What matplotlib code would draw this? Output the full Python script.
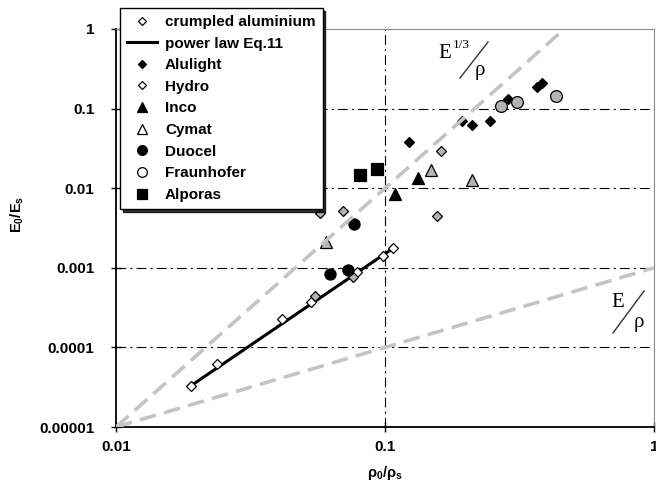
import matplotlib
matplotlib.use("Agg")
import matplotlib.pyplot as plt
from matplotlib.lines import Line2D

plt.rcParams["font.family"] = ["Liberation Sans", "DejaVu Sans"]
plt.rcParams["font.weight"] = "bold"
plt.rcParams["mathtext.fontset"] = "custom"
plt.rcParams["mathtext.rm"] = "Liberation Sans:bold"
plt.rcParams["mathtext.it"] = "Liberation Sans:bold"
plt.rcParams["mathtext.default"] = "rm"
plt.rcParams["lines.scale_dashes"] = False

# ---- data ----
crumpled_x = [0.0190, 0.0237, 0.0415, 0.0532, 0.0785, 0.098, 0.1074]
crumpled_y = [3.3e-5, 6.25e-5, 2.30e-4, 3.74e-4, 8.73e-4, 1.39e-3, 1.77e-3]

powerlaw_x = [0.019, 0.1074]
powerlaw_y = [3.3e-5, 1.77e-3]

alulight_x = [0.1231, 0.1928, 0.210, 0.2456, 0.287, 0.366, 0.385]
alulight_y = [0.0381, 0.0692, 0.0629, 0.0692, 0.1336, 0.1874, 0.2104]

hydro_x = [0.0549, 0.0762, 0.0573, 0.070, 0.1557, 0.1619]
hydro_y = [4.44e-4, 7.64e-4, 4.88e-3, 5.1e-3, 4.51e-3, 0.029]

inco_x = [0.109, 0.133]
inco_y = [8.4e-3, 0.0134]

cymat_x = [0.0603, 0.1486, 0.2106]
cymat_y = [2.08e-3, 0.0171, 0.0128]

duocel_x = [0.0625, 0.0730, 0.0767]
duocel_y = [8.33e-4, 9.25e-4, 3.54e-3]

fraunhofer_x = [0.270, 0.310, 0.431]
fraunhofer_y = [0.107, 0.121, 0.146]

alporas_x = [0.0807, 0.0936]
alporas_y = [0.0148, 0.0176]

# guide lines E^(1/3)/rho and E/rho
guide3_x = [0.01, 0.464]
guide3_y = [1e-5, 1.0]
guide1_x = [0.01, 1.0]
guide1_y = [1e-5, 1e-3]

xticks = [0.01, 0.1, 1]
xtick_labels = ["0.01", "0.1", "1"]
yticks = [1e-5, 1e-4, 1e-3, 1e-2, 1e-1, 1]
ytick_labels = ["0.00001", "0.0001", "0.001", "0.01", "0.1", "1"]
grid_x = [0.1]
grid_y = [1e-4, 1e-3, 1e-2, 1e-1]

W, H = 656, 484
fig = plt.figure(figsize=(W / 100, H / 100), dpi=100)
fig.patch.set_facecolor("white")
ax = fig.add_axes([116 / W, 57 / H, 538 / W, 398 / H])
ax.set_xscale("log")
ax.set_yscale("log")
ax.set_xlim(0.01, 1)
ax.set_ylim(1e-5, 1)

GRAY = "#b4b4b4"
DASH = "#c4c4c4"
dd = (0, (7, 3, 1.5, 3))

for gx in grid_x:
    ax.axvline(gx, color="black", lw=0.8, ls=dd, zorder=1)
for gy in grid_y:
    ax.axhline(gy, color="black", lw=0.8, ls=dd, zorder=1)

ax.plot(powerlaw_x, powerlaw_y, color="black", lw=2.2, zorder=3)

mk = dict(ls="none", markeredgecolor="black", markeredgewidth=0.9, zorder=4)
ax.plot(crumpled_x, crumpled_y, marker="D", ms=5, markerfacecolor="white", **mk)
ax.plot(hydro_x, hydro_y, marker="D", ms=4.8, markerfacecolor=GRAY, **mk)
ax.plot(alulight_x, alulight_y, marker="D", ms=5.5, markerfacecolor="black", **mk)
ax.plot(inco_x, inco_y, marker="^", ms=8, markerfacecolor="black", **mk)
ax.plot(cymat_x, cymat_y, marker="^", ms=8, markerfacecolor=GRAY, **mk)
ax.plot(duocel_x, duocel_y, marker="o", ms=8, markerfacecolor="black", **mk)
ax.plot(fraunhofer_x, fraunhofer_y, marker="o", ms=8.5, markerfacecolor=GRAY, **mk)
ax.plot(alporas_x, alporas_y, marker="s", ms=8.5, markerfacecolor="black", **mk)

ax.plot(guide3_x, guide3_y, color=DASH, lw=2.6, dashes=(12, 6), zorder=5)
ax.plot(guide1_x, guide1_y, color=DASH, lw=2.6, dashes=(12, 6), zorder=5)

# axes frame
for s in ["left", "bottom"]:
    ax.spines[s].set_color("black")
    ax.spines[s].set_linewidth(1.3)
for s in ["top", "right"]:
    ax.spines[s].set_color("#8a8a8a")
    ax.spines[s].set_linewidth(0.8)

ax.set_xticks(xticks)
ax.set_xticklabels(xtick_labels)
ax.set_yticks(yticks)
ax.set_yticklabels(ytick_labels)
ax.minorticks_off()
ax.tick_params(direction="inout", length=7, width=1, labelsize=11)
ax.tick_params(axis="y", pad=12)
ax.tick_params(axis="x", pad=6)

ax.set_xlabel(r"$ρ_0/ρ_s$", fontsize=10.5, labelpad=7)
ax.set_ylabel(r"$E_0/E_s$", fontsize=10.5)
ax.yaxis.set_label_coords(-0.168, 0.535)

# annotations in figure pixels (top-left origin)
def fx(px):
    return px / W

def fy(py):
    return 1 - py / H

serif = ["Liberation Serif", "DejaVu Serif"]
fig.text(fx(445), fy(53.5), "E", family=serif, weight="normal", fontsize=15,
         ha="center", va="center")
fig.text(fx(461), fy(45), "1/3", family=serif, weight="normal", fontsize=9.5,
         ha="center", va="center")
fig.add_artist(Line2D([fx(460), fx(488)], [fy(78), fy(42)], color="#333333", lw=1))
fig.text(fx(480), fy(71), "ρ", family=serif, weight="normal", fontsize=15,
         ha="center", va="center")

fig.text(fx(618), fy(302.5), "E", family=serif, weight="normal", fontsize=15,
         ha="center", va="center")
fig.add_artist(Line2D([fx(613), fx(644)], [fy(333), fy(291)], color="#333333", lw=1))
fig.text(fx(639), fy(322), "ρ", family=serif, weight="normal", fontsize=15,
         ha="center", va="center")

# legend
mkl = dict(ls="none", markeredgecolor="black", markeredgewidth=0.9)
handles = [
    Line2D([], [], marker="D", ms=4.5, markerfacecolor="white", **mkl),
    Line2D([], [], color="black", lw=2.2),
    Line2D([], [], marker="D", ms=4.5, markerfacecolor="black", **mkl),
    Line2D([], [], marker="D", ms=4.5, markerfacecolor="white", **mkl),
    Line2D([], [], marker="^", ms=7, markerfacecolor="black", **mkl),
    Line2D([], [], marker="^", ms=7, markerfacecolor="white", **mkl),
    Line2D([], [], marker="o", ms=7, markerfacecolor="black", **mkl),
    Line2D([], [], marker="o", ms=7, markerfacecolor="white", **mkl),
    Line2D([], [], marker="s", ms=6.5, markerfacecolor="black", **mkl),
]
labels = ["crumpled aluminium", "power law Eq.11", "Alulight", "Hydro", "Inco",
          "Cymat", "Duocel", "Fraunhofer", "Alporas"]
leg = fig.legend(handles, labels, loc="upper left",
                 bbox_to_anchor=(fx(120), fy(8)), fontsize=11,
                 frameon=True, fancybox=False, shadow={"color": "black", "alpha": 0.8},
                 framealpha=1, edgecolor="black", borderpad=0.45,
                 labelspacing=0.5, handlelength=2.0, handletextpad=0.5,
                 borderaxespad=0)
leg.get_frame().set_linewidth(1.0)
leg.set_zorder(10)

fig.savefig("out.png", dpi=100)
